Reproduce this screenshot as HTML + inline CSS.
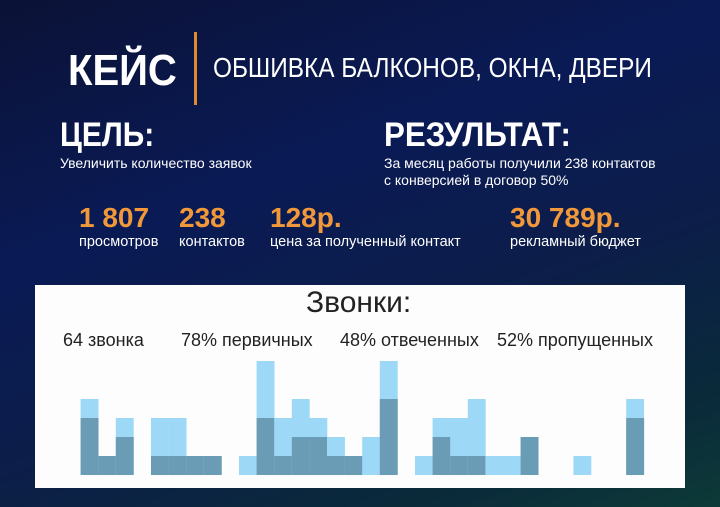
<!DOCTYPE html><html><head><meta charset="utf-8"><style>
body{margin:0;width:720px;height:507px;overflow:hidden;font-family:"Liberation Sans Narrow","Liberation Sans",sans-serif;}
#bg{position:absolute;left:0;top:0;width:720px;height:507px;background:linear-gradient(160deg,#0b1236 0%,#0a1a55 35%,#0c1d4a 60%,#0a2a3a 85%,#0d3a38 100%);}
.t{position:absolute;color:#fff;white-space:nowrap;transform-origin:0 0;}
.o{color:#f0983a;font-weight:bold;}
#panel{position:absolute;left:35px;top:285px;width:650px;height:203px;background:#fdfdfd;}
.c{color:#222;font-family:'Liberation Sans',sans-serif;}
</style></head><body><div id="bg"></div>
<div class="t" style="left:68px;top:46px;font-size:44px;font-weight:bold;transform:scaleX(0.91)">КЕЙС</div>
<div style="position:absolute;left:194px;top:32px;width:3px;height:73px;background:#e08a30"></div>
<div class="t" style="left:213px;top:52px;font-size:28px;transform:scaleX(0.87)">ОБШИВКА БАЛКОНОВ, ОКНА, ДВЕРИ</div>
<div class="t" style="left:60px;top:116px;font-size:34px;font-weight:bold;transform:scaleX(0.88)">ЦЕЛЬ:</div>
<div class="t" style="left:60px;top:155px;font-size:14px;">Увеличить количество заявок</div>
<div class="t" style="left:384px;top:116px;font-size:34px;font-weight:bold;transform:scaleX(0.92)">РЕЗУЛЬТАТ:</div>
<div class="t" style="left:384px;top:155px;font-size:14px;line-height:17px;">За месяц работы получили 238 контактов<br>с конверсией в договор 50%</div>
<div class="t o" style="left:79px;top:202px;font-size:28px;">1 807</div>
<div class="t o" style="left:179px;top:202px;font-size:28px;">238</div>
<div class="t o" style="left:270px;top:202px;font-size:28px;">128р.</div>
<div class="t o" style="left:510px;top:202px;font-size:28px;">30 789р.</div>
<div class="t" style="left:79px;top:234px;font-size:14.5px;">просмотров</div>
<div class="t" style="left:179px;top:234px;font-size:14.5px;">контактов</div>
<div class="t" style="left:270px;top:234px;font-size:14.5px;">цена за полученный контакт</div>
<div class="t" style="left:510px;top:234px;font-size:14.5px;">рекламный бюджет</div>
<div id="panel"></div>
<div class="t c" style="left:306px;top:286px;font-size:30px;">Звонки:</div>
<div class="t c" style="left:63px;top:330px;font-size:18px;">64 звонка</div>
<div class="t c" style="left:181px;top:330px;font-size:18px;">78% первичных</div>
<div class="t c" style="left:340px;top:330px;font-size:18px;">48% отвеченных</div>
<div class="t c" style="left:497px;top:330px;font-size:18px;">52% пропущенных</div>
<svg style="position:absolute;left:0;top:0" width="720" height="507" id="s"></svg>
<script>
var d=[[4,3],[1,1],[3,2],[0,0],[3,1],[3,1],[1,1],[1,1],[0,0],[1,0],[6,3],[3,1],[4,2],[3,2],[2,1],[1,1],[2,0],[6,4],[0,0],[1,0],[3,2],[3,1],[4,1],[1,0],[1,0],[2,2],[0,0],[0,0],[1,0],[0,0],[0,0],[4,3]];
var s='',u=19,b=475,w=17.6;
d.forEach(function(v,i){var x=80.6+w*i;
if(v[0])s+='<rect x="'+x+'" y="'+(b-u*v[0])+'" width="'+(w+0.3)+'" height="'+u*v[0]+'" fill="#9dd9f7"/>';
if(v[1])s+='<rect x="'+x+'" y="'+(b-u*v[1])+'" width="'+(w+0.3)+'" height="'+u*v[1]+'" fill="#6a9cb6"/>';});
document.getElementById('s').innerHTML=s;
</script>
</body></html>
